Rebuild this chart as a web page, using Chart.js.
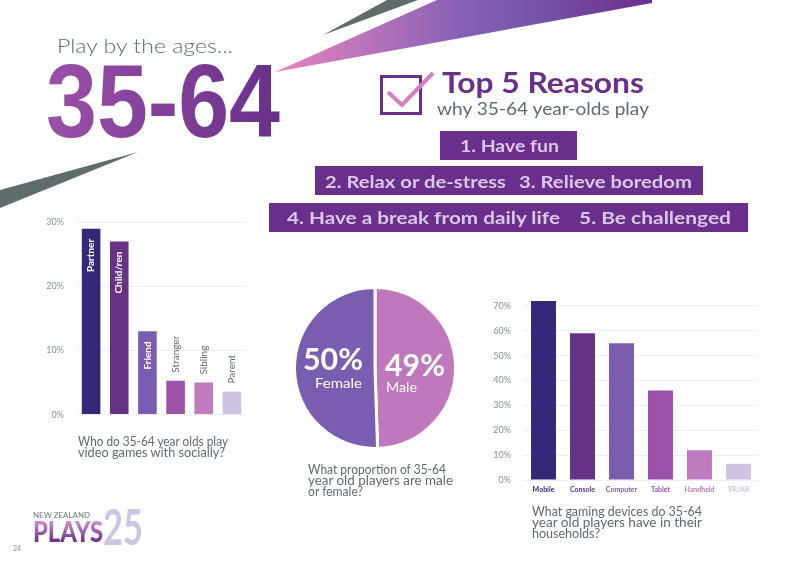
<!DOCTYPE html>
<html>
<head>
<meta charset="utf-8">
<script src="https://cdn.jsdelivr.net/npm/chart.js@4.4.0/dist/chart.umd.min.js"></script>
<style>
  html, body { margin: 0; padding: 0; background: #ffffff; }
  #page { position: relative; width: 800px; height: 565px; overflow: hidden; font-family: Lato, "Noto Sans", sans-serif; }
  canvas { position: absolute; }
  #socialChart { left: 40px; top: 204px; }
  #genderChart { left: 290px; top: 283px; }
  #deviceChart { left: 490px; top: 280px; }
  #art { position: absolute; left: 0; top: 0; z-index: 2; pointer-events: none; }
</style>
</head>
<body>
<div id="page">
  <canvas id="socialChart" width="230" height="229"></canvas>
  <canvas id="genderChart" width="170" height="170"></canvas>
  <canvas id="deviceChart" width="280" height="225"></canvas>

  <svg id="art" width="800" height="565" viewBox="0 0 800 565">
    <defs>
      <linearGradient id="swoosh" x1="275" y1="0" x2="652" y2="0" gradientUnits="userSpaceOnUse">
        <stop offset="0" stop-color="#e985c0"/>
        <stop offset="0.5" stop-color="#8660b4"/>
        <stop offset="0.65" stop-color="#7858ac"/>
        <stop offset="1" stop-color="#6a2f8a"/>
      </linearGradient>
      <linearGradient id="bigNum" x1="46" y1="0" x2="280" y2="0" gradientUnits="userSpaceOnUse">
        <stop offset="0" stop-color="#9b50a8"/>
        <stop offset="1" stop-color="#68308a"/>
      </linearGradient>
      <linearGradient id="plays" x1="0" y1="522" x2="0" y2="542" gradientUnits="userSpaceOnUse">
        <stop offset="0" stop-color="#c98ad0"/>
        <stop offset="1" stop-color="#6a2f8a"/>
      </linearGradient>
    </defs>

    <!-- swooshes -->
    <polygon points="323,35 387,0 418,0" fill="#5e6c6c"/>
    <polygon points="275,72 437,0 652,0 652,3" fill="url(#swoosh)"/>
    <polygon points="0,190 138,152 0,208" fill="#5e6c6c"/>

    <!-- title -->
    <text x="57" y="53" font-size="19" font-weight="300" fill="#5f6b6b" textLength="176" lengthAdjust="spacingAndGlyphs">Play by the ages...</text>
    <text x="46" y="137" font-family="Liberation Sans, Arial, sans-serif" font-weight="bold" font-size="103" fill="url(#bigNum)" textLength="234" lengthAdjust="spacingAndGlyphs">35-64</text>

    <!-- checkbox -->
    <rect x="381.5" y="76.5" width="39" height="37" fill="none" stroke="#6a2f8a" stroke-width="3"/>
    <polyline points="388,92 402,105 433,73" fill="none" stroke="#d67fc0" stroke-width="4"/>

    <text x="442" y="93" font-size="28" font-weight="bold" fill="#6a2f8a" textLength="202" lengthAdjust="spacingAndGlyphs">Top 5 Reasons</text>
    <text x="437" y="115" font-size="18" fill="#5f6b6b" textLength="212" lengthAdjust="spacingAndGlyphs">why 35-64 year-olds play</text>

    <!-- reasons -->
    <rect x="440" y="131" width="137" height="29" fill="#6a2f8a"/>
    <text x="460" y="152" font-size="17" font-weight="bold" fill="#d9c8ea" textLength="99" lengthAdjust="spacingAndGlyphs">1. Have fun</text>
    <rect x="315" y="166" width="388" height="29" fill="#6a2f8a"/>
    <text x="325" y="188" font-size="17" font-weight="bold" fill="#d9c8ea" textLength="181" lengthAdjust="spacingAndGlyphs">2. Relax or de-stress</text>
    <text x="519" y="188" font-size="17" font-weight="bold" fill="#d9c8ea" textLength="173" lengthAdjust="spacingAndGlyphs">3. Relieve boredom</text>
    <rect x="269" y="203" width="479" height="29" fill="#6a2f8a"/>
    <text x="287" y="224" font-size="17" font-weight="bold" fill="#d9c8ea" textLength="273" lengthAdjust="spacingAndGlyphs">4. Have a break from daily life</text>
    <text x="579" y="224" font-size="17" font-weight="bold" fill="#d9c8ea" textLength="152" lengthAdjust="spacingAndGlyphs">5. Be challenged</text>

    <!-- pie labels -->
    <text x="303" y="370" font-size="31" font-weight="bold" fill="#ffffff" textLength="60" lengthAdjust="spacingAndGlyphs">50%</text>
    <text x="315" y="388" font-size="14" fill="#ffffff" textLength="47" lengthAdjust="spacingAndGlyphs">Female</text>
    <text x="385" y="376" font-size="30" font-weight="bold" fill="#ffffff" textLength="60" lengthAdjust="spacingAndGlyphs">49%</text>
    <text x="386" y="392" font-size="14" fill="#ffffff" textLength="31" lengthAdjust="spacingAndGlyphs">Male</text>

    <!-- captions -->
    <g font-size="12.5" fill="#5f6b6b">
      <text x="78" y="446" textLength="150" lengthAdjust="spacingAndGlyphs">Who do 35-64 year olds play</text>
      <text x="78" y="457" textLength="147" lengthAdjust="spacingAndGlyphs">video games with socially?</text>

      <text x="308" y="474" textLength="138" lengthAdjust="spacingAndGlyphs">What proportion of 35-64</text>
      <text x="308" y="485" textLength="145" lengthAdjust="spacingAndGlyphs">year old players are male</text>
      <text x="308" y="496" textLength="55" lengthAdjust="spacingAndGlyphs">or female?</text>

      <text x="532" y="516" textLength="170" lengthAdjust="spacingAndGlyphs">What gaming devices do 35-64</text>
      <text x="532" y="527" textLength="170" lengthAdjust="spacingAndGlyphs">year old players have in their</text>
      <text x="532" y="538" textLength="68" lengthAdjust="spacingAndGlyphs">households?</text>
    </g>

    <!-- logo -->
    <text x="33" y="517.5" font-size="7" fill="#6b7373" textLength="57" lengthAdjust="spacingAndGlyphs">NEW ZEALAND</text>
    <text x="33" y="542" font-size="28" font-weight="900" fill="url(#plays)" textLength="70" lengthAdjust="spacingAndGlyphs">PLAYS</text>
    <text x="103" y="545" font-size="50" font-weight="bold" fill="#cfc3e2" textLength="40" lengthAdjust="spacingAndGlyphs">25</text>
    <text x="13" y="551" font-size="7" fill="#888888">24</text>
  </svg>
</div>

<script>
const socialLabels = ['Partner', 'Child/ren', 'Friend', 'Stranger', 'Sibling', 'Parent'];
const socialValues = [29, 27, 13, 5.3, 5, 3.6];
const socialTicks = [0, 10, 20, 30];

const genderLabels = ['Male', 'Female'];
const genderValues = [49, 50];

const deviceLabels = ['Mobile', 'Console', 'Computer', 'Tablet', 'Handheld', 'VR/AR'];
const deviceValues = [72, 59, 55, 36, 12, 6.5];
const deviceTicks = [0, 10, 20, 30, 40, 50, 60, 70];

const palette = ['#35277a', '#673185', '#7a5cb0', '#9b52a8', '#bf7ac0', '#cfc3e2'];
const greyText = '#5f6b6b';
const tickGrey = '#8a8f8f';

Chart.defaults.font.family = 'Lato, "Noto Sans", sans-serif';
Chart.defaults.animation = false;
Chart.defaults.events = [];
Chart.defaults.plugins.legend.display = false;
Chart.defaults.plugins.tooltip.enabled = false;

// rotated names on the social bars: first three inside, rest above
const barNames = {
    id: 'barNames',
    afterDatasetsDraw(chart) {
        const ctx = chart.ctx;
        const meta = chart.getDatasetMeta(0);
        meta.data.forEach((bar, i) => {
            const inside = i < 3;
            ctx.save();
            ctx.translate(bar.x, bar.y);
            ctx.rotate(-Math.PI / 2);
            ctx.textBaseline = 'middle';
            if (inside) {
                ctx.font = 'bold 10px Lato, sans-serif';
                ctx.fillStyle = '#ffffff';
                ctx.textAlign = 'right';
                ctx.fillText(socialLabels[i], -10, 0);
            } else {
                ctx.font = '10px Lato, sans-serif';
                ctx.fillStyle = greyText;
                ctx.textAlign = 'left';
                ctx.fillText(socialLabels[i], 8, 0);
            }
            ctx.restore();
        });
    }
};

new Chart(document.getElementById('socialChart'), {
    type: 'bar',
    data: {
        labels: socialLabels,
        datasets: [{
            data: socialValues,
            backgroundColor: palette,
            categoryPercentage: 1,
            barPercentage: 0.66
        }]
    },
    options: {
        responsive: false,
        layout: { padding: { right: 24 } },
        scales: {
            x: { display: false },
            y: {
                min: 0,
                max: 30,
                afterFit: s => { s.width = 37; },
                afterBuildTicks: s => { s.ticks = socialTicks.map(v => ({ value: v })); },
                ticks: {
                    padding: 13,
                    color: tickGrey,
                    font: { size: 9 },
                    callback: v => v + '%'
                },
                grid: { color: '#eeeeee', drawTicks: false },
                border: { display: false }
            }
        }
    },
    plugins: [barNames]
});

new Chart(document.getElementById('genderChart'), {
    type: 'pie',
    data: {
        labels: genderLabels,
        datasets: [{
            data: genderValues,
            backgroundColor: ['#bf78bc', '#7a5cb0'],
            borderColor: '#ffffff',
            borderWidth: 3
        }]
    },
    options: {
        responsive: false,
        layout: { padding: 3 }
    }
});

new Chart(document.getElementById('deviceChart'), {
    type: 'bar',
    data: {
        labels: deviceLabels,
        datasets: [{
            data: deviceValues,
            backgroundColor: palette,
            categoryPercentage: 1,
            barPercentage: 0.64
        }]
    },
    options: {
        responsive: false,
        layout: { padding: { right: 12, bottom: 5 } },
        scales: {
            x: {
                afterFit: s => { s.height = 20; },
                grid: { display: false, drawTicks: false },
                border: { display: false },
                ticks: {
                    padding: 6,
                    maxRotation: 0,
                    color: c => palette[c.index],
                    font: { size: 7, weight: 'bold' }
                }
            },
            y: {
                min: 0,
                max: 73,
                afterFit: s => { s.width = 34; },
                afterBuildTicks: s => { s.ticks = deviceTicks.map(v => ({ value: v })); },
                ticks: {
                    padding: 13,
                    color: tickGrey,
                    font: { size: 9 },
                    callback: v => v + '%'
                },
                grid: { color: '#eeeeee', drawTicks: false },
                border: { display: false }
            }
        }
    }
});
</script>
</body>
</html>
